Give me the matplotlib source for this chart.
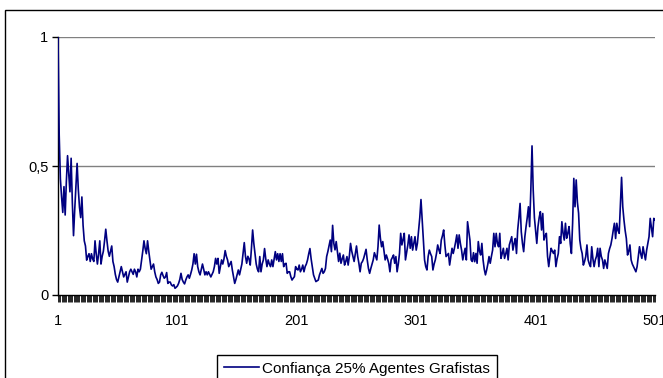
import numpy as np
import matplotlib.pyplot as plt
from matplotlib.patches import Rectangle

plt.rcParams['font.family'] = ['Liberation Sans', 'DejaVu Sans']

# confidence of chartist agents, one value per period (1..501)
confianca = [
    1.00, 0.62, 0.45, 0.38, 0.32, 0.42, 0.31, 0.44, 0.54, 0.47,
    0.40, 0.53, 0.36, 0.23, 0.33, 0.42, 0.51, 0.41, 0.34, 0.30,
    0.38, 0.27, 0.21, 0.19, 0.135, 0.15, 0.16, 0.13, 0.16, 0.14,
    0.13, 0.21, 0.16, 0.12, 0.16, 0.21, 0.12, 0.15, 0.17, 0.21,
    0.255, 0.21, 0.17, 0.15, 0.17, 0.19, 0.13, 0.11, 0.08, 0.06,
    0.05, 0.07, 0.09, 0.11, 0.09, 0.07, 0.08, 0.09, 0.05, 0.07,
    0.09, 0.10, 0.09, 0.08, 0.10, 0.09, 0.07, 0.10, 0.09, 0.10,
    0.135, 0.17, 0.21, 0.18, 0.16, 0.21, 0.17, 0.135, 0.10, 0.11,
    0.12, 0.09, 0.07, 0.06, 0.045, 0.05, 0.078, 0.088, 0.075, 0.065,
    0.07, 0.087, 0.045, 0.05, 0.05, 0.039, 0.035, 0.04, 0.026, 0.03,
    0.035, 0.045, 0.06, 0.084, 0.06, 0.05, 0.043, 0.058, 0.07, 0.078,
    0.065, 0.08, 0.097, 0.12, 0.16, 0.12, 0.158, 0.11, 0.09, 0.078,
    0.10, 0.12, 0.10, 0.078, 0.09, 0.078, 0.09, 0.08, 0.07, 0.08,
    0.09, 0.11, 0.142, 0.12, 0.142, 0.084, 0.11, 0.136, 0.12, 0.14,
    0.172, 0.15, 0.136, 0.11, 0.12, 0.13, 0.097, 0.07, 0.045, 0.06,
    0.078, 0.097, 0.078, 0.10, 0.12, 0.16, 0.203, 0.15, 0.123, 0.15,
    0.14, 0.116, 0.18, 0.252, 0.20, 0.16, 0.12, 0.10, 0.09, 0.149,
    0.09, 0.12, 0.136, 0.18, 0.14, 0.11, 0.136, 0.12, 0.11, 0.136,
    0.11, 0.14, 0.168, 0.136, 0.16, 0.13, 0.16, 0.13, 0.16, 0.11,
    0.12, 0.123, 0.084, 0.09, 0.09, 0.071, 0.058, 0.065, 0.071, 0.11,
    0.10, 0.097, 0.116, 0.09, 0.10, 0.116, 0.09, 0.11, 0.12, 0.136,
    0.16, 0.18, 0.14, 0.11, 0.078, 0.065, 0.052, 0.055, 0.058, 0.078,
    0.09, 0.103, 0.084, 0.09, 0.103, 0.149, 0.168, 0.19, 0.213, 0.168,
    0.27, 0.20, 0.175, 0.207, 0.17, 0.13, 0.162, 0.123, 0.14, 0.155,
    0.116, 0.13, 0.149, 0.116, 0.15, 0.20, 0.17, 0.149, 0.13, 0.16,
    0.19, 0.15, 0.123, 0.09, 0.123, 0.13, 0.142, 0.16, 0.177, 0.136,
    0.103, 0.084, 0.103, 0.12, 0.136, 0.164, 0.15, 0.136, 0.187, 0.271,
    0.22, 0.187, 0.207, 0.17, 0.136, 0.155, 0.14, 0.123, 0.09, 0.136,
    0.145, 0.155, 0.123, 0.149, 0.09, 0.12, 0.161, 0.239, 0.194, 0.215,
    0.239, 0.136, 0.165, 0.194, 0.233, 0.181, 0.226, 0.174, 0.20, 0.226,
    0.174, 0.20, 0.252, 0.30, 0.37, 0.29, 0.213, 0.136, 0.11, 0.097,
    0.149, 0.174, 0.16, 0.149, 0.097, 0.12, 0.136, 0.161, 0.194, 0.175,
    0.161, 0.213, 0.23, 0.252, 0.194, 0.149, 0.155, 0.161, 0.116, 0.15,
    0.181, 0.161, 0.181, 0.205, 0.233, 0.181, 0.233, 0.20, 0.174, 0.136,
    0.16, 0.181, 0.136, 0.284, 0.25, 0.213, 0.136, 0.13, 0.164, 0.129,
    0.161, 0.123, 0.207, 0.17, 0.155, 0.20, 0.136, 0.10, 0.078, 0.097,
    0.12, 0.149, 0.123, 0.15, 0.174, 0.239, 0.187, 0.239, 0.20, 0.187,
    0.239, 0.142, 0.16, 0.181, 0.142, 0.16, 0.181, 0.136, 0.194, 0.21,
    0.226, 0.174, 0.20, 0.219, 0.161, 0.252, 0.30, 0.355, 0.245, 0.20,
    0.168, 0.226, 0.265, 0.30, 0.342, 0.265, 0.407, 0.578, 0.407, 0.30,
    0.252, 0.20, 0.265, 0.30, 0.323, 0.252, 0.316, 0.213, 0.23, 0.239,
    0.15, 0.11, 0.149, 0.181, 0.17, 0.161, 0.174, 0.11, 0.14, 0.161,
    0.226, 0.20, 0.284, 0.24, 0.213, 0.278, 0.22, 0.24, 0.265, 0.20,
    0.161, 0.278, 0.452, 0.342, 0.446, 0.36, 0.317, 0.213, 0.18, 0.161,
    0.116, 0.13, 0.149, 0.194, 0.136, 0.12, 0.11, 0.187, 0.14, 0.11,
    0.136, 0.15, 0.181, 0.11, 0.181, 0.15, 0.136, 0.103, 0.136, 0.12,
    0.103, 0.161, 0.18, 0.194, 0.219, 0.25, 0.278, 0.219, 0.278, 0.25,
    0.239, 0.35, 0.456, 0.342, 0.291, 0.25, 0.219, 0.155, 0.17, 0.194,
    0.136, 0.12, 0.11, 0.10, 0.09, 0.11, 0.149, 0.187, 0.16, 0.142,
    0.187, 0.16, 0.136, 0.174, 0.20, 0.226, 0.297, 0.26, 0.226, 0.297,
    0.291,
]
periodos = np.arange(1, len(confianca) + 1)

x_ticks = [1, 101, 201, 301, 401, 501]
y_ticks = [0, 0.5, 1]
y_labels = ['0', '0,5', '1']
serie_label = 'Confiança 25% Agentes Grafistas'

W, H = 663, 378
fig = plt.figure(figsize=(W / 100, H / 100), dpi=100)

# outer chart border (runs off the right and bottom edges)
fig.patches.append(Rectangle((5 / W, -0.1), 1.2, 1 - 10 / H + 0.1,
                             transform=fig.transFigure, fill=False,
                             edgecolor='black', linewidth=1.0))

ax = fig.add_axes([58 / W, 1 - 295 / H, (655 - 58) / W, (295 - 37) / H])
ax.plot(periodos, confianca, color='#000080', linewidth=1.2,
        label=serie_label, zorder=3)

ax.set_xlim(1, 501)
ax.set_ylim(0, 1)
for y in y_ticks[1:]:
    ax.axhline(y, color='#808080', linewidth=1.0, zorder=1)

for s in ['top', 'right']:
    ax.spines[s].set_visible(False)
ax.spines['left'].set_linewidth(1.0)
ax.spines['bottom'].set_linewidth(1.0)

ax.set_yticks(y_ticks)
ax.set_yticklabels(y_labels)
ax.set_xticks(x_ticks)
ax.set_xticks(periodos, minor=True)
ax.tick_params(axis='y', direction='out', length=4, width=1.0,
               labelsize=10.5, pad=3)
ax.tick_params(axis='x', which='major', direction='out', length=5,
               width=0.6, labelsize=10.5, pad=9)
ax.tick_params(axis='x', which='minor', direction='out', length=5,
               width=0.6, color='black')

fig.legend(loc='upper left', bbox_to_anchor=(209 / W, 1 - 347 / H),
           frameon=True, fancybox=False, edgecolor='black', framealpha=1,
           fontsize=11, handlelength=2.3, borderpad=0.45,
           handletextpad=0.25)

fig.savefig('out.png', dpi=100)
